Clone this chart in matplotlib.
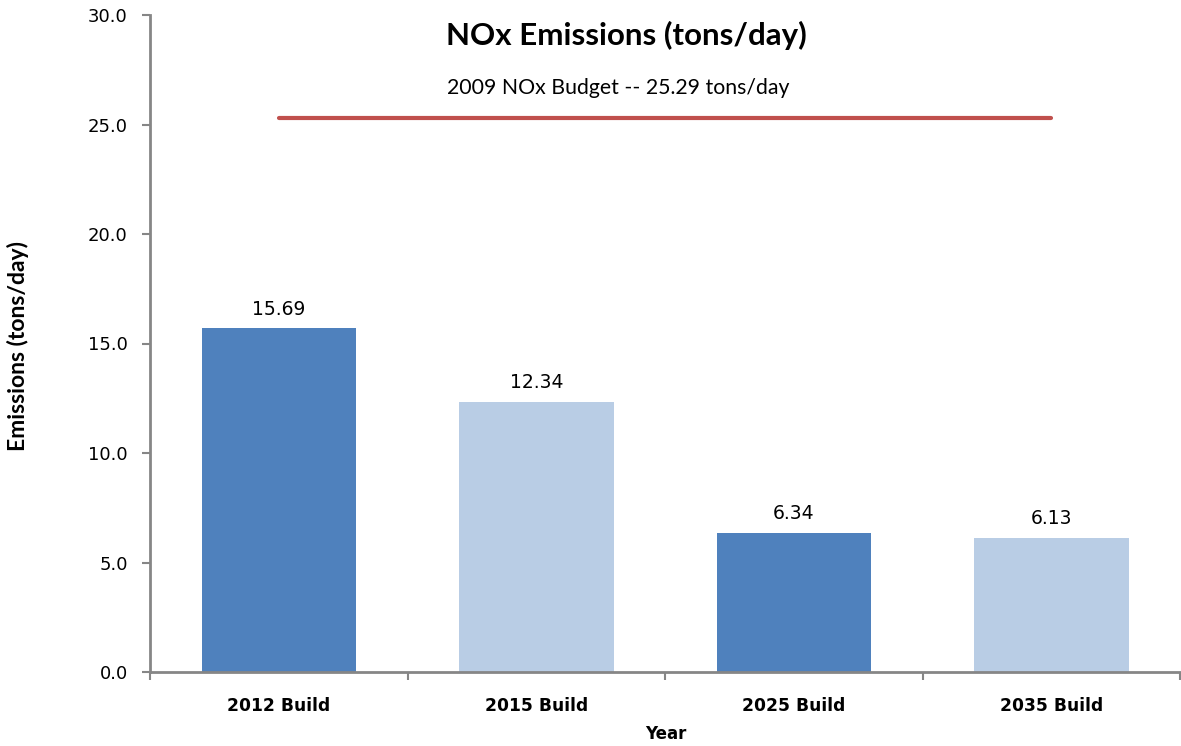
import matplotlib
matplotlib.use("Agg")
import matplotlib.pyplot as plt

categories = ["2012 Build", "2015 Build", "2025 Build", "2035 Build"]
values = [15.69, 12.34, 6.34, 6.13]
value_labels = ["15.69", "12.34", "6.34", "6.13"]
budget = 25.29
budget_label = "2009 NOx Budget -- 25.29 tons/day"
yticks = [0, 5, 10, 15, 20, 25, 30]

colors = ["#4F81BD", "#B9CDE5", "#4F81BD", "#B9CDE5"]
axis_gray = "#868686"

fig = plt.figure(figsize=(11.81, 7.46), dpi=100)
ax = fig.add_axes([150/1181, 74/746, 1030/1181, 657/746])

x = list(range(len(categories)))
ax.bar(x, values, width=0.6, color=colors, zorder=2)
for xi, v, lab in zip(x, values, value_labels):
    ax.annotate(lab, (xi, v), xytext=(0, 7), textcoords="offset points",
                ha="center", va="bottom", fontsize=13.5, family="DejaVu Sans")

ax.plot([0, 3], [budget, budget], color="#C0504D", lw=3, solid_capstyle="round", zorder=3)

ax.set_xlim(-0.5, 3.5)
ax.set_ylim(0, 30)
ax.set_yticks(yticks)
ax.set_yticklabels([f"{t:.1f}" for t in yticks], fontsize=13)
ax.set_xticks(x)
ax.set_xticklabels(categories, fontsize=12.3, fontweight="bold")
ax.tick_params(axis="x", length=0, pad=18)
ax.set_xticks([-0.5, 0.5, 1.5, 2.5, 3.5], minor=True)
ax.tick_params(axis="x", which="minor", length=6, color=axis_gray, direction="out", width=1.5)
ax.tick_params(axis="y", length=6, color=axis_gray, width=1.5, pad=10)

for s in ["top", "right"]:
    ax.spines[s].set_visible(False)
for s in ["left", "bottom"]:
    ax.spines[s].set_color(axis_gray)
    ax.spines[s].set_linewidth(2)

fig.text(626/1181, 1 - 35/746, "NOx Emissions (tons/day)", ha="center", va="center",
         fontsize=22.5, fontweight="bold", family="Lato")
fig.text(618/1181, 1 - 88/746, budget_label, ha="center", va="center",
         fontsize=15.3, family="Lato")
fig.text(18/1181, 1 - 346/746, "Emissions (tons/day)", ha="center", va="center",
         rotation=90, fontsize=16.5, fontweight="bold", family="Lato")
fig.text(666/1181, 1 - 734/746, "Year", ha="center", va="center",
         fontsize=12, fontweight="bold", family="DejaVu Sans")

fig.savefig("out.png", dpi=100)
